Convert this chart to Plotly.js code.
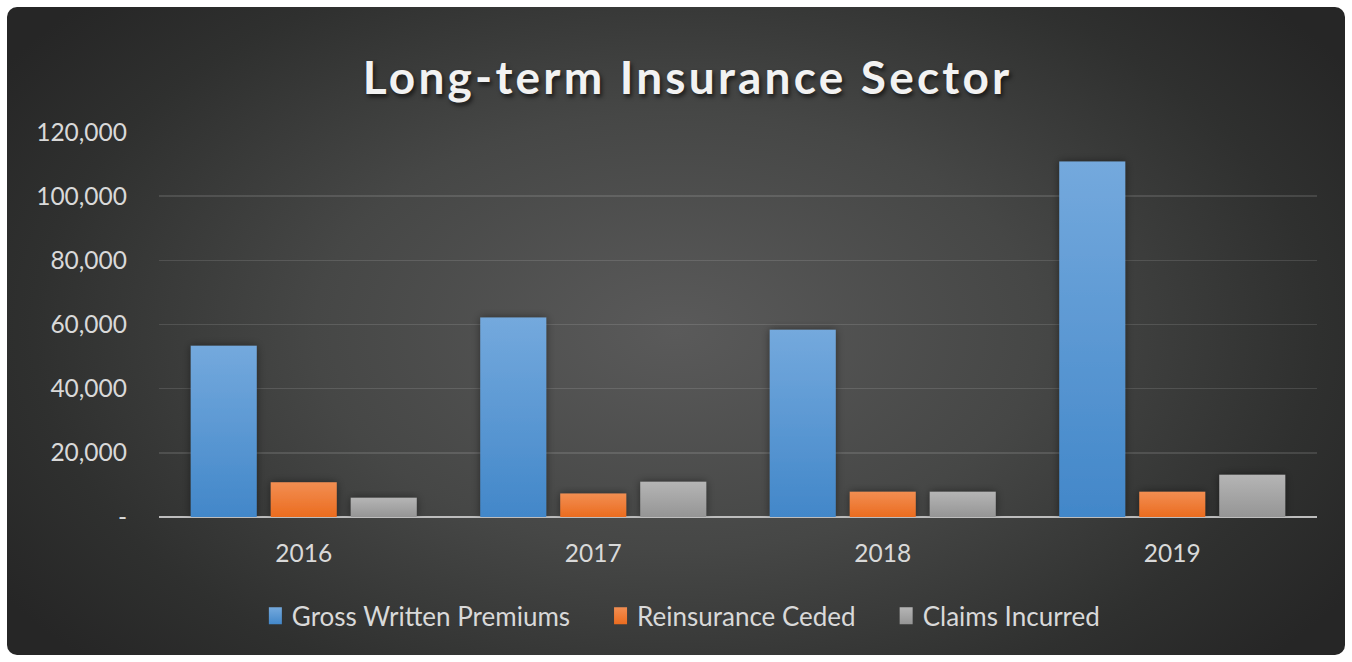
<!DOCTYPE html>
<html>
<head>
<meta charset="utf-8">
<script src="https://cdn.plot.ly/plotly-3.0.1.min.js"></script>
<style>
  html, body { margin: 0; padding: 0; background: #ffffff; }
  #wrap { position: relative; width: 1352px; height: 662px; }
  #bg {
    position: absolute; left: 7px; top: 7px; width: 1338px; height: 648px;
    border-radius: 10px;
    background: radial-gradient(ellipse 60% 75% at 50% 50%, #5a5a5a 0%, #464746 45%, #2f302f 80%, #262626 100%);
  }
  #chart { position: absolute; left: 0; top: 0; width: 1352px; height: 662px; }
</style>
</head>
<body>
<div id="wrap">
  <div id="bg"></div>
  <div id="chart"></div>
</div>
<script>
const years = ['2016', '2017', '2018', '2019'];
const grossWrittenPremiums = [53400, 62200, 58400, 110800];
const reinsuranceCeded = [10800, 7300, 7900, 7900];
const claimsIncurred = [6000, 11000, 7900, 13200];
const seriesNames = ['Gross Written Premiums', 'Reinsurance Ceded', 'Claims Incurred'];
const yTickVals = [0, 20000, 40000, 60000, 80000, 100000, 120000];
const yTickText = ['-', '20,000', '40,000', '60,000', '80,000', '100,000', '120,000'];

const baseColors = ['#5b9bd5', '#ed7d31', '#a5a5a5'];
const gradStops = [
  ['#74a9dd', '#4287c9'],
  ['#f28e52', '#eb6c1f'],
  ['#b5b5b5', '#959595']
];

const seriesValues = [grossWrittenPremiums, reinsuranceCeded, claimsIncurred];
const traces = seriesValues.map((vals, i) => ({
  type: 'bar',
  name: seriesNames[i],
  x: years,
  y: vals,
  marker: { color: baseColors[i], line: { width: 0 } },
  hoverinfo: 'none'
}));

const font = 'Lato, "Open Sans", sans-serif';
const layout = {
  width: 1352,
  height: 662,
  paper_bgcolor: 'rgba(0,0,0,0)',
  plot_bgcolor: 'rgba(0,0,0,0)',
  margin: { l: 159, r: 35, t: 132, b: 145, pad: 0, autoexpand: false },
  barmode: 'group',
  bargap: 0.171,
  bargroupgap: 0.175,
  title: {
    text: 'Long-term Insurance Sector',
    x: 0.5086, xanchor: 'center',
    y: 0.883, yanchor: 'middle',
    font: { family: font, size: 46, color: '#f2f2f2', weight: 700, shadow: '2px 3px 4px rgba(0,0,0,0.6)' }
  },
  xaxis: {
    type: 'category',
    showgrid: false,
    zeroline: false,
    showline: false,
    ticks: '',
    ticklabelstandoff: 19,
    tickfont: { family: font, size: 24.5, color: '#d9d9d9' }
  },
  yaxis: {
    range: [0, 120000],
    tickvals: yTickVals,
    ticktext: yTickText,
    showgrid: true,
    gridcolor: 'rgba(255,255,255,0.12)',
    gridwidth: 1.5,
    zeroline: true,
    zerolinecolor: '#bdbdbd',
    zerolinewidth: 2.5,
    showline: false,
    ticks: '',
    ticklabelstandoff: 31,
    tickfont: { family: font, size: 24.5, color: '#d9d9d9' }
  },
  showlegend: true,
  legend: {
    orientation: 'h',
    x: 0.439, xanchor: 'center',
    y: -0.257, yanchor: 'middle',
    font: { family: font, size: 26, color: '#d9d9d9' },
    itemwidth: 52,
    bgcolor: 'rgba(0,0,0,0)'
  }
};

Plotly.newPlot('chart', traces, layout, { displayModeBar: false, staticPlot: true }).then(gd => {
  const svg = gd.querySelector('.main-svg');
  const ns = 'http://www.w3.org/2000/svg';
  let defs = svg.querySelector('defs');
  if (!defs) { defs = document.createElementNS(ns, 'defs'); svg.insertBefore(defs, svg.firstChild); }
  gradStops.forEach((stops, i) => {
    const g = document.createElementNS(ns, 'linearGradient');
    g.setAttribute('id', 'barGrad' + i);
    g.setAttribute('x1', '0'); g.setAttribute('y1', '0');
    g.setAttribute('x2', '0'); g.setAttribute('y2', '1');
    [[0, stops[0]], [1, stops[1]]].forEach(([o, c]) => {
      const s = document.createElementNS(ns, 'stop');
      s.setAttribute('offset', o); s.setAttribute('stop-color', c);
      g.appendChild(s);
    });
    defs.appendChild(g);
  });
  const f = document.createElementNS(ns, 'filter');
  f.setAttribute('id', 'barShadow');
  f.setAttribute('x', '-30%'); f.setAttribute('y', '-30%');
  f.setAttribute('width', '160%'); f.setAttribute('height', '160%');
  const ds = document.createElementNS(ns, 'feDropShadow');
  ds.setAttribute('dx', '0'); ds.setAttribute('dy', '0');
  ds.setAttribute('stdDeviation', '4');
  ds.setAttribute('flood-color', '#000'); ds.setAttribute('flood-opacity', '0.45');
  f.appendChild(ds);
  defs.appendChild(f);

  gd.querySelectorAll('.barlayer .trace').forEach((tr, i) => {
    tr.querySelectorAll('path').forEach(p => {
      p.style.fill = 'url(#barGrad' + i + ')';
      p.setAttribute('filter', 'url(#barShadow)');
    });
  });
  gd.querySelectorAll('.legend .traces').forEach((tr, i) => {
    const txt = tr.querySelector('.legendtext');
    const pts = tr.querySelector('.legendpoints');
    if (pts) {
      pts.querySelectorAll('path').forEach(p => {
        p.setAttribute('d', 'M6.5,8.5H-6.5V-8.5H6.5Z');
        p.style.fill = 'url(#barGrad' + i + ')';
      });
      if (txt) {
        const tb = txt.getBBox();
        const pb = pts.getBBox();
        const dx = (tb.x - 10) - (pb.x + pb.width);
        const old = pts.getAttribute('transform') || '';
        pts.setAttribute('transform', 'translate(' + dx + ',0) ' + old);
      }
    }
  });
  const t = gd.querySelector('.gtitle');
  if (t) t.style.letterSpacing = '3.2px';
});
</script>
</body>
</html>
